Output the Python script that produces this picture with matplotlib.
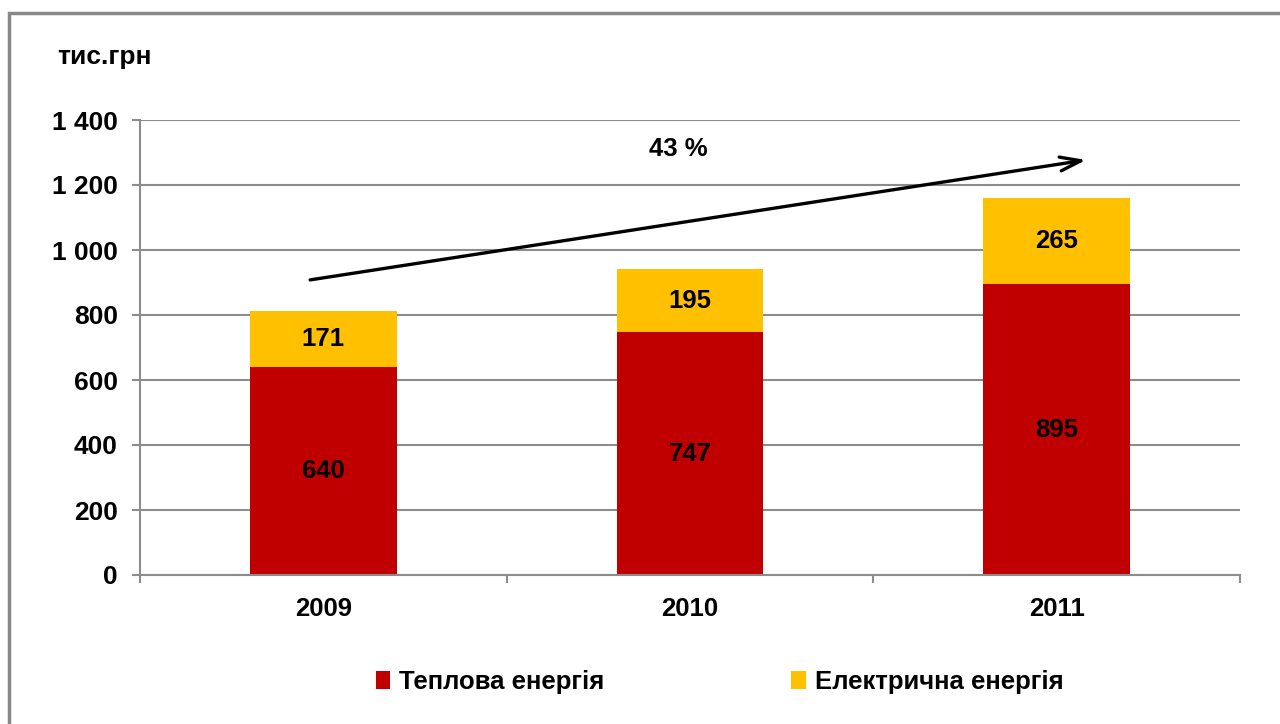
import numpy as np
import matplotlib.pyplot as plt
from matplotlib.patches import Rectangle

plt.rcParams["font.family"] = ["Liberation Sans", "DejaVu Sans"]
plt.rcParams["font.weight"] = "bold"

# data
years = ["2009", "2010", "2011"]
heat = [640, 747, 895]
electric = [171, 195, 265]
yticks = [0, 200, 400, 600, 800, 1000, 1200, 1400]
ytick_labels = ["0", "200", "400", "600", "800", "1 000", "1 200", "1 400"]

red = "#c00000"
gold = "#ffc000"
grid_gray = "#8c8c8c"
fs = 18.5

fig = plt.figure(figsize=(12.8, 7.24), dpi=100)
ax = fig.add_axes([140 / 1280, 1 - 575 / 724, 1100 / 1280, 455 / 724])

# outer frame (only left/top visible in the original)
fig.patches.append(
    Rectangle((9 / 1280, -0.05), 1.2, 1 - 13 / 724 + 0.05, transform=fig.transFigure,
              fill=False, edgecolor="#888888", linewidth=2.5, zorder=0)
)

index = np.arange(len(years))
bw = 0.4
ax.bar(index, heat, bw, color=red, label="Теплова енергія", zorder=2)
ax.bar(index, electric, bw, bottom=heat, color=gold, label="Електрична енергія", zorder=2)

for i in index:
    ax.text(i, heat[i] / 2, str(heat[i]), ha="center", va="center",
            fontsize=fs, fontweight="bold", zorder=3)
    ax.text(i, heat[i] + electric[i] / 2, str(electric[i]), ha="center", va="center",
            fontsize=fs, fontweight="bold", zorder=3)

ax.set_xlim(-0.5, 2.5)
ax.set_ylim(0, 1400)
ax.set_yticks(yticks)
ax.set_yticklabels(ytick_labels, fontsize=19, fontweight="bold")
ax.yaxis.grid(True, color=grid_gray, linewidth=1.5, zorder=0)
ax.set_axisbelow(True)

# category ticks sit between groups
ax.set_xticks([-0.5, 0.5, 1.5, 2.5])
ax.set_xticklabels([])
ax.set_xticks(index, minor=True)
ax.set_xticklabels(years, minor=True, fontsize=fs, fontweight="bold")
ax.tick_params(axis="x", which="major", length=6, width=1.5, color=grid_gray, direction="out")
ax.tick_params(axis="x", which="minor", length=0, pad=16)
ax.tick_params(axis="y", length=6, width=1.5, color=grid_gray, direction="out", pad=10)

for s in ["top", "right"]:
    ax.spines[s].set_visible(False)
for s in ["left", "bottom"]:
    ax.spines[s].set_color(grid_gray)
    ax.spines[s].set_linewidth(1.5)

# growth arrow
ax.annotate("", xy=(2.08, 1277), xytext=(-0.036, 908),
            arrowprops=dict(arrowstyle="->,head_length=1.5,head_width=0.5", color="black",
                            lw=2.4, shrinkA=0, shrinkB=0), zorder=4)
ax.text(0.967, 1310, "43 %", ha="center", va="center", fontsize=fs, fontweight="bold")

fig.text(57 / 1280, 1 - 57 / 724, "тис.грн", ha="left", va="center", fontsize=19, fontweight="bold")

fig.legend(loc="center", bbox_to_anchor=(0.562, 1 - 682 / 724), ncol=2, frameon=False,
           prop={"size": fs, "weight": "bold"}, handlelength=0.55, handleheight=0.75,
           handletextpad=0.35, columnspacing=7.3)

fig.savefig("out.png", dpi=100)
